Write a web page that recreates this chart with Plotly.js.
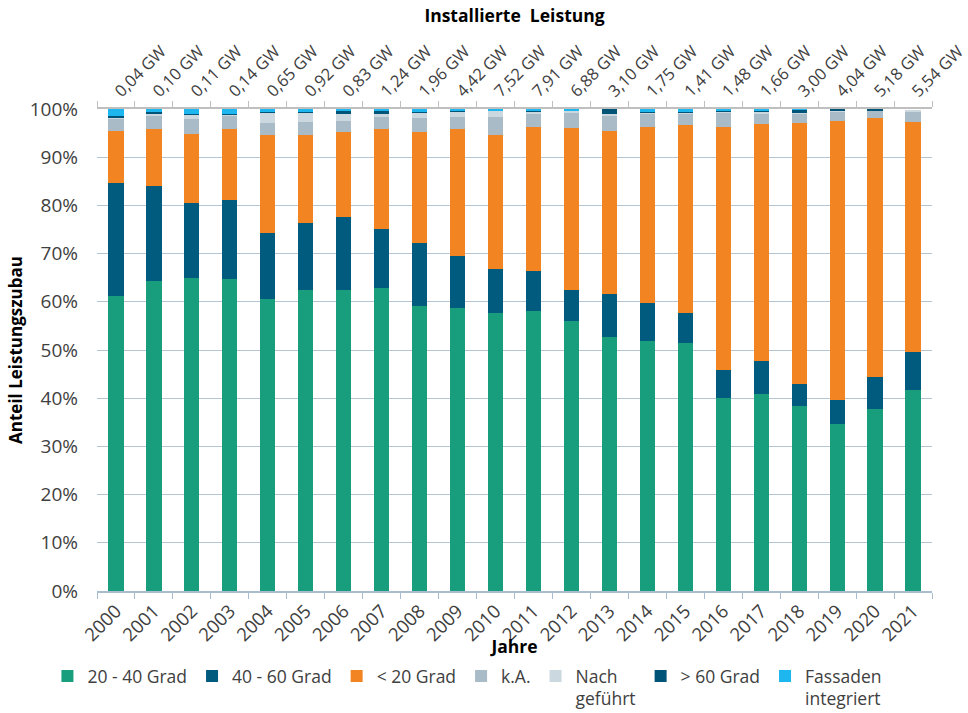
<!DOCTYPE html>
<html>
<head>
<meta charset="utf-8">
<script src="https://cdn.plot.ly/plotly-3.0.1.min.js"></script>
<style>
html,body{margin:0;padding:0;background:#fff;}
#chart{width:968px;height:713px;}
</style>
</head>
<body>
<div id="chart"></div>
<script>
const years = ['2000','2001','2002','2003','2004','2005','2006','2007','2008','2009','2010','2011','2012','2013','2014','2015','2016','2017','2018','2019','2020','2021'];
const leistung = ['0,04 GW','0,10 GW','0,11 GW','0,14 GW','0,65 GW','0,92 GW','0,83 GW','1,24 GW','1,96 GW','4,42 GW','7,52 GW','7,91 GW','6,88 GW','3,10 GW','1,75 GW','1,41 GW','1,48 GW','1,66 GW','3,00 GW','4,04 GW','5,18 GW','5,54 GW'];

const grad20_40 = [61.2,64.4,65.0,64.8,60.6,62.4,62.4,62.9,59.2,58.8,57.6,58.1,56.1,52.6,51.9,51.4,40.1,40.8,38.3,34.6,37.8,41.7];
const grad40_60 = [23.4,19.6,15.6,16.4,13.7,13.9,15.1,12.3,13.1,10.6,9.3,8.3,6.3,9.0,7.9,6.3,5.8,6.9,4.6,5.1,6.5,7.9];
const grad_lt20 = [10.9,11.9,14.3,14.7,20.3,18.3,17.7,20.6,22.9,26.4,27.7,29.9,33.6,33.8,36.4,38.9,50.4,49.2,54.3,57.9,53.8,47.7];
const keineAngabe = [2.4,2.6,3.1,2.7,2.5,2.8,2.4,2.5,2.9,2.5,3.7,2.7,3.2,3.2,2.7,2.4,2.9,2.1,1.8,1.8,1.4,2.0];
const nachgefuehrt = [0.3,0.4,0.8,0.2,2.1,1.8,1.4,0.7,1.1,1.0,1.2,0.4,0.3,0.3,0.3,0.2,0.2,0.3,0.2,0.1,0.1,0.5];
const grad_gt60 = [0.4,0.4,0.2,0.2,0.2,0.2,0.6,0.6,0.2,0.2,0.1,0.1,0.1,1.0,0.1,0.1,0.1,0.2,0.6,0.5,0.4,0.0];
const fassaden = [1.4,0.8,1.0,1.0,0.6,0.6,0.4,0.4,0.6,0.5,0.4,0.5,0.4,0.1,0.7,0.7,0.5,0.5,0.2,0.0,0.0,0.0];

const seriesNames = ['20 - 40 Grad','40 - 60 Grad','< 20 Grad','k.A.','Nach<br>geführt','> 60 Grad','Fassaden<br>integriert'];
const seriesValues = [grad20_40, grad40_60, grad_lt20, keineAngabe, nachgefuehrt, grad_gt60, fassaden];
const seriesColors = ['#189d7d','#005b7f','#f38422','#a8bbc7','#cbd8e0','#005478','#1db6ee'];

const FONT = '"Open Sans", "Noto Sans", sans-serif';
const TXT = '#404040';

const traces = seriesNames.map((n, i) => ({
  type: 'bar',
  name: n,
  x: years,
  y: seriesValues[i],
  marker: {color: seriesColors[i], line: {width: 0}},
  hoverinfo: 'skip'
}));

// invisible helper trace for the top axis (installed capacity labels)
traces.push({
  type: 'scatter',
  mode: 'markers',
  x: years,
  y: years.map(() => 0),
  xaxis: 'x2',
  yaxis: 'y',
  marker: {opacity: 0, size: 1},
  showlegend: false,
  hoverinfo: 'skip'
});

const xRange = [-0.5, years.length - 0.5];

const layout = {
  width: 968,
  height: 713,
  margin: {l: 97, r: 36, t: 109, b: 122, pad: 0},
  paper_bgcolor: '#ffffff',
  plot_bgcolor: '#ffffff',
  barmode: 'stack',
  bargap: 0.6,
  font: {family: FONT, color: TXT, size: 17},
  title: {
    text: '<b>Installierte  Leistung</b>',
    font: {family: FONT, size: 17.5, color: '#000000'},
    x: 0.5, xref: 'paper',
    y: 1 - 16/713, yref: 'container', yanchor: 'middle'
  },
  xaxis: {
    type: 'category',
    categoryorder: 'array',
    categoryarray: years,
    range: xRange,
    autorange: false,
    tickangle: -45,
    tickfont: {family: FONT, size: 18.5, color: TXT},
    ticks: 'outside',
    tickson: 'boundaries',
    ticklen: 6,
    tickcolor: '#a9bdcf',
    showline: true,
    linecolor: '#a9bdcf',
    linewidth: 2,
    showgrid: false,
    zeroline: false,
    title: {text: '<b>Jahre</b>', font: {family: FONT, size: 17.5, color: '#000000'}, standoff: 0},
    automargin: false
  },
  xaxis2: {
    type: 'category',
    overlaying: 'x',
    side: 'top',
    categoryorder: 'array',
    categoryarray: years,
    range: xRange,
    autorange: false,
    tickmode: 'array',
    tickvals: years,
    ticktext: leistung,
    tickangle: -45,
    tickfont: {family: FONT, size: 16.5, color: TXT},
    ticks: 'outside',
    tickson: 'boundaries',
    ticklen: 6,
    tickcolor: '#bfbfbf',
    showline: true,
    linecolor: '#bfbfbf',
    linewidth: 2,
    showgrid: false,
    zeroline: false,
    automargin: false
  },
  yaxis: {
    range: [0, 100],
    autorange: false,
    dtick: 10,
    ticksuffix: '%',
    tickfont: {family: FONT, size: 19, color: TXT},
    showgrid: true,
    gridcolor: '#b4c6d4',
    gridwidth: 1,
    zeroline: false,
    showline: false,
    ticks: '',
    ticklabelstandoff: 18,
    title: {text: '<b>Anteil Leistungszubau</b>', font: {family: FONT, size: 17, color: '#000000'}, standoff: 2},
    automargin: false
  },
  legend: {
    orientation: 'h',
    xref: 'container',
    yref: 'container',
    x: 0.049,
    xanchor: 'left',
    y: 1 - 658/713,
    yanchor: 'top',
    valign: 'top',
    font: {family: FONT, size: 17.5, color: TXT},
    itemwidth: 30,
    traceorder: 'normal',
    bgcolor: 'rgba(0,0,0,0)'
  },
  showlegend: true
};

Plotly.newPlot('chart', traces, layout, {displayModeBar: false, staticPlot: true});
</script>
</body>
</html>
